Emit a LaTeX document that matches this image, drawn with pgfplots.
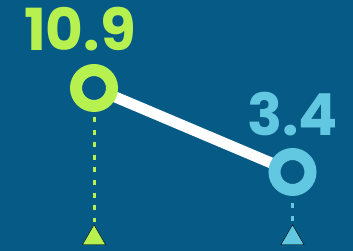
\documentclass[border=0pt]{standalone}
\usepackage{pgfplots}
\pgfplotsset{compat=1.18}
\usepackage{fontspec}
\setmainfont{Poppins}
\definecolor{bg}{RGB}{5,91,133}
\definecolor{lime}{RGB}{183,241,80}
\definecolor{sky}{RGB}{98,200,225}
\begin{document}
\begin{tikzpicture}
\begin{axis}[
  width=353pt, height=251pt, scale only axis,
  hide axis,
  xmin=-0.4736, xmax=1.3048,
  ymin=-3.654, ymax=18.757,
  clip=false,
]
\fill[bg] (rel axis cs:0,0) rectangle (rel axis cs:1,1);
% dotted guides
\addplot[lime, line width=3pt, dash pattern=on 5pt off 7.6pt, dash phase=8.8pt] coordinates {(0,10.9) (0,-1.1)};
\addplot[sky, line width=3pt, dash pattern=on 5pt off 7.6pt, dash phase=6.8pt] coordinates {(1,3.4) (1,-1.1)};
% connecting line
\addplot[white, line width=11pt] coordinates {(0,10.9) (1,3.4)};
% rings
\addplot[only marks, mark=*, mark size=18pt, mark options={draw=lime, fill=bg, line width=12pt}] coordinates {(0,10.9)};
\addplot[only marks, mark=*, mark size=18pt, mark options={draw=sky, fill=bg, line width=12pt}] coordinates {(1,3.4)};
% triangles
\addplot[only marks, mark=triangle*, mark size=13.3pt, mark options={fill=lime, draw=none}] coordinates {(0,-2.5)};
\addplot[only marks, mark=triangle*, mark size=13.3pt, mark options={fill=sky, draw=none}] coordinates {(1,-2.5)};
% labels
\node[anchor=base, xshift=-14pt, yshift=37pt, text=lime, font=\fontsize{58}{60}\selectfont\bfseries] at (axis cs:0,10.9) {10.9};
\node[anchor=base, yshift=36pt, text=sky, font=\fontsize{58}{60}\selectfont\bfseries] at (axis cs:1,3.4) {3.4};
\end{axis}
\end{tikzpicture}
\end{document}
